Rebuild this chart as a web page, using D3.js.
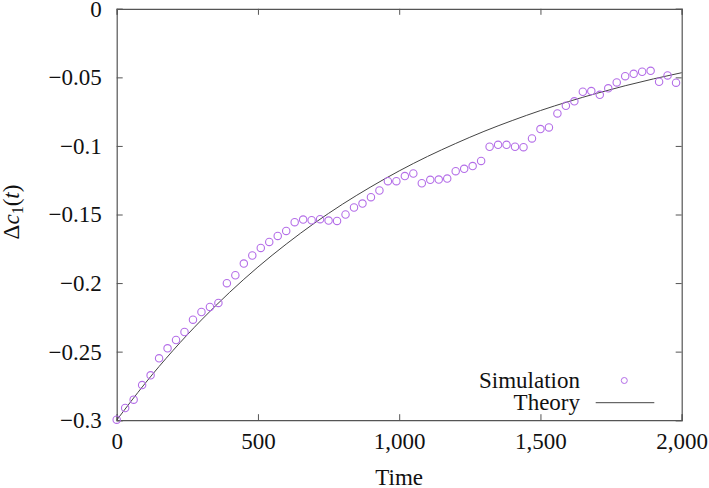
<!DOCTYPE html>
<html><head><meta charset="utf-8">
<script src="https://cdn.jsdelivr.net/npm/d3@7"></script>
<style>
body{margin:0;background:#fff;}
svg{display:block;}
</style></head>
<body><svg id="c" width="709" height="488"></svg>
<script>
// Simulation samples (time, Δc1)
const simTimes = d3.range(0, 1981, 30);
const simValues = [
 -0.2996,-0.2911,-0.2850,-0.2744,-0.2673,-0.2549,-0.2476,-0.2415,-0.2357,-0.2267,
 -0.2211,-0.2174,-0.2145,-0.2001,-0.1943,-0.1858,-0.1799,-0.1744,-0.1700,-0.1656,
 -0.1620,-0.1556,-0.1537,-0.1542,-0.1534,-0.1544,-0.1547,-0.1500,-0.1449,-0.1420,
 -0.1374,-0.1325,-0.1257,-0.1257,-0.1220,-0.1201,-0.1272,-0.1247,-0.1245,-0.1238,
 -0.1184,-0.1167,-0.1147,-0.1109,-0.1006,-0.0992,-0.0992,-0.1006,-0.1009,-0.0945,
 -0.0877,-0.0865,-0.0763,-0.0707,-0.0675,-0.0605,-0.0600,-0.0627,-0.0580,-0.0537,
 -0.0491,-0.0474,-0.0459,-0.0452,-0.0532,-0.0486,-0.0539
];
// Theory curve, read at every 100 time units
const theoryTimes = [0,100,200,300,400,500,600,700,800,900,1000,1100,1200,1300,1400,1500,1600,1700,1800,1900,2000];
const theoryValues = [-0.3000,-0.2733,-0.2490,-0.2269,-0.2067,-0.1883,-0.1716,-0.1563,-0.1424,-0.1298,
 -0.1182,-0.1077,-0.0982,-0.0894,-0.0815,-0.0742,-0.0676,-0.0616,-0.0561,-0.0511,-0.0466];
const xTicks = [0,500,1000,1500,2000];
const yTicks = [0,-0.05,-0.1,-0.15,-0.2,-0.25,-0.3];
const seriesNames = ["Simulation","Theory"];

const FONT = "Liberation Serif";
const svg = d3.select("#c").attr("font-family", FONT);
const m = {l:116.7, t:8.8, r:27.3, b:67.8};
const W = 709, H = 488;
const x = d3.scaleLinear().domain([0,2000]).range([m.l, W-m.r]);
const y = d3.scaleLinear().domain([-0.3,0]).range([H-m.b, m.t]);
const frame = "#555";
const fs = 23;
const fmtY = v => v===0 ? "0" : "\u2212" + d3.format("")(Math.abs(+v.toFixed(2)));
const fmtX = d3.format(",");

// axes with inward ticks
const gB = svg.append("g").attr("transform",`translate(0,${y(-0.3)})`)
  .call(d3.axisBottom(x).tickValues(xTicks).tickSize(-6).tickPadding(12).tickFormat(fmtX));
const gT = svg.append("g").attr("transform",`translate(0,${y(0)})`)
  .call(d3.axisTop(x).tickValues(xTicks).tickSize(-6).tickFormat(""));
const gL = svg.append("g").attr("transform",`translate(${x(0)},0)`)
  .call(d3.axisLeft(y).tickValues(yTicks).tickSize(-6).tickPadding(15).tickFormat(fmtY));
const gR = svg.append("g").attr("transform",`translate(${x(2000)},0)`)
  .call(d3.axisRight(y).tickValues(yTicks).tickSize(-6).tickFormat(""));
[gB,gT,gL,gR].forEach(g=>{
  g.attr("font-family", FONT).attr("font-size", fs);
  g.select(".domain").attr("stroke",frame).attr("stroke-width",1.2);
  g.selectAll(".tick line").attr("stroke",frame).attr("stroke-width",1);
  g.selectAll(".tick text").attr("fill","#111");
});

// theory line
svg.append("path")
  .datum(theoryTimes.map((t,i)=>[t,theoryValues[i]]))
  .attr("fill","none").attr("stroke","#444").attr("stroke-width",1)
  .attr("d", d3.line().x(d=>x(d[0])).y(d=>y(d[1])).curve(d3.curveMonotoneX));

// simulation points
svg.append("g").selectAll("circle")
  .data(simTimes.map((t,i)=>[t,simValues[i]]))
  .join("circle")
  .attr("cx",d=>x(d[0])).attr("cy",d=>y(d[1])).attr("r",3.7)
  .attr("fill","none").attr("stroke","#b46ee8").attr("stroke-width",1.1);

// legend
const lg = svg.append("g").attr("font-family",FONT).attr("font-size",fs).attr("fill","#111");
lg.append("text").attr("x",580).attr("y",380.7).attr("dy","0.33em").attr("text-anchor","end").text(seriesNames[0]);
lg.append("circle").attr("cx",624.3).attr("cy",380.5).attr("r",3)
  .attr("fill","none").attr("stroke","#b46ee8").attr("stroke-width",1);
lg.append("text").attr("x",580).attr("y",402.7).attr("dy","0.33em").attr("text-anchor","end").text(seriesNames[1]);
lg.append("line").attr("x1",595.7).attr("x2",654.3).attr("y1",402.7).attr("y2",402.7)
  .attr("stroke","#444").attr("stroke-width",1);

// axis titles
svg.append("text").attr("x",(x(0)+x(2000))/2).attr("y",485).attr("text-anchor","middle")
  .attr("font-family",FONT).attr("font-size",fs).attr("fill","#111").text("Time");
const yt = svg.append("text").attr("transform",`translate(19,212) rotate(-90)`)
  .attr("text-anchor","middle").attr("font-family",FONT).attr("font-size",fs).attr("fill","#111");
yt.append("tspan").text("\u0394");
yt.append("tspan").attr("font-style","italic").text("c");
yt.append("tspan").attr("font-size",16).attr("dy",4).text("1");
yt.append("tspan").attr("dy",-4).text("(");
yt.append("tspan").attr("font-style","italic").text("t");
yt.append("tspan").text(")");
</script></body></html>
